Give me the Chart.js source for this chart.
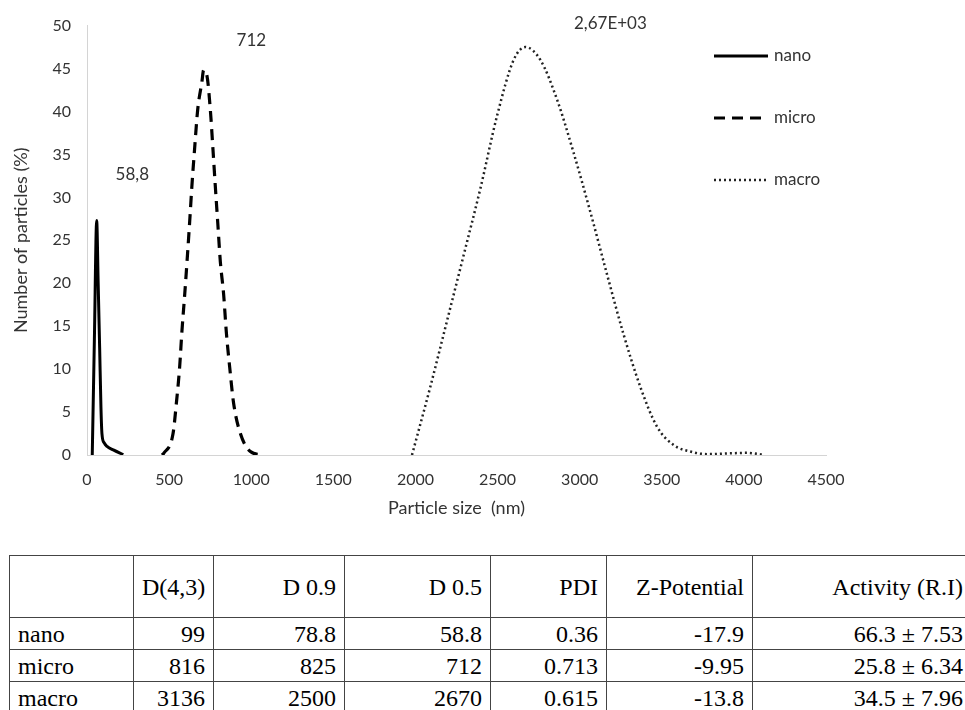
<!DOCTYPE html>
<html>
<head>
<meta charset="utf-8">
<script src="https://cdn.jsdelivr.net/npm/chart.js@4.4.1/dist/chart.umd.min.js"></script>
<style>
html, body { margin: 0; padding: 0; background: #fff; overflow: hidden; width: 965px; height: 710px; }
#chartBox { position: absolute; left: 0; top: 0; width: 965px; height: 530px; }
#tbl { position: absolute; left: 9px; top: 555px; border-collapse: collapse; table-layout: fixed; width: 962px;
       font-family: "Liberation Serif", "Times New Roman", serif; font-size: 24px; color: #000; }
#tbl td { border: 1px solid #444; padding: 0 8px; text-align: right; height: 31px; white-space: nowrap; line-height: 1; }
#tbl tr.head td { height: 61px; }
#tbl td:first-child { text-align: left; }
</style>
</head>
<body>
<div id="chartBox"><canvas id="psd"></canvas></div>
<table id="tbl">
  <colgroup>
    <col style="width:124px"><col style="width:80px"><col style="width:131px"><col style="width:146px">
    <col style="width:116px"><col style="width:146px"><col style="width:219px">
  </colgroup>
  <tbody id="tblBody"></tbody>
</table>
<script>
// size distribution curves (x = particle size in nm, y = % of particles)
const nanoSize = [32, 45, 59, 68, 77, 85, 91, 105, 122, 160, 221];
const nanoPct = [0, 13.5, 27.3, 20, 12.5, 5.5, 2.5, 1.4, 1.0, 0.6, 0.05];

const microSize = [457, 467, 524, 544, 564, 578, 595, 609, 625, 639, 655, 674, 700, 710, 731, 751, 767, 781, 796, 812, 832, 848, 869, 893, 934, 995, 1066];
const microPct = [0, 0.2, 2.5, 6.0, 10.2, 14.4, 18.7, 22.5, 27.1, 31.4, 35.6, 40.2, 43.5, 44.8, 44.1, 40.2, 35.6, 31.4, 27.1, 22.5, 18.7, 14.4, 10.2, 6.0, 2.5, 0.4, 0];

const macroSize = [1979, 2090, 2192, 2294, 2395, 2497, 2598, 2669, 2761, 2862, 2963, 3065, 3167, 3268, 3370, 3471, 3573, 3674, 3775, 3917, 4019, 4110];
const macroPct = [0, 7.9, 15.6, 23.3, 31, 39.5, 46, 47.5, 46, 41.4, 35.2, 28.3, 21, 14, 7.9, 3.3, 1.15, 0.4, 0.1, 0.2, 0.25, 0.05];

const seriesNames = ['nano', 'micro', 'macro'];

// peak labels, placed in data units
const peakText = ['58,8', '712', '2,67E+03'];
const peakTextX = [276, 1001, 3187];
const peakTextY = [32.7, 48.3, 50.2];

// table under the chart
const tableHead = ['', 'D(4,3)', 'D 0.9', 'D 0.5', 'PDI', 'Z-Potential', 'Activity (R.I)'];
const tableRows = [
  ['nano', '99', '78.8', '58.8', '0.36', '-17.9', '66.3 ± 7.53'],
  ['micro', '816', '825', '712', '0.713', '-9.95', '25.8 ± 6.34'],
  ['macro', '3136', '2500', '2670', '0.615', '-13.8', '34.5 ± 7.96']
];

const tbody = document.getElementById('tblBody');
[tableHead, ...tableRows].forEach((row, r) => {
  const tr = document.createElement('tr');
  if (r === 0) tr.className = 'head';
  row.forEach(cell => {
    const td = document.createElement('td');
    td.textContent = cell;
    tr.appendChild(td);
  });
  tbody.appendChild(tr);
});

const textColor = '#333';
const tickFont = { family: 'Lato', size: 16 };
const titleFont = { family: 'Lato', size: 18 };

function pts(xs, ys) {
  return xs.map((v, i) => ({ x: v, y: ys[i] }));
}

const overlay = {
  id: 'overlay',
  afterDatasetsDraw(chart) {
    const { ctx, scales: { x, y } } = chart;
    ctx.save();
    ctx.font = '17px Lato';
    ctx.fillStyle = textColor;
    ctx.textBaseline = 'middle';
    ctx.textAlign = 'center';
    peakText.forEach((t, i) => {
      ctx.fillText(t, x.getPixelForValue(peakTextX[i]), y.getPixelForValue(peakTextY[i]));
    });
    // legend drawn by hand, Excel puts it over the right part of the plot
    chart.data.datasets.forEach((ds, i) => {
      const ly = 56 + i * 62;
      ctx.beginPath();
      ctx.setLineDash(ds.borderDash || []);
      ctx.lineWidth = ds.borderWidth;
      ctx.strokeStyle = ds.borderColor;
      ctx.moveTo(714, ly);
      ctx.lineTo(768, ly);
      ctx.stroke();
      ctx.setLineDash([]);
      ctx.textAlign = 'left';
      ctx.fillText(ds.label, 774, ly);
    });
    ctx.restore();
  }
};

new Chart(document.getElementById('psd'), {
  type: 'line',
  data: {
    datasets: [
      { label: seriesNames[0], data: pts(nanoSize, nanoPct), borderColor: '#000', borderWidth: 3 },
      { label: seriesNames[1], data: pts(microSize, microPct), borderColor: '#000', borderWidth: 3.2, borderDash: [11, 7] },
      { label: seriesNames[2], data: pts(macroSize, macroPct), borderColor: '#222', borderWidth: 2.5, borderDash: [2, 3] }
    ]
  },
  options: {
    responsive: true,
    maintainAspectRatio: false,
    animation: false,
    layout: { padding: { top: 22, right: 139, left: 0, bottom: 0 } },
    elements: {
      point: { radius: 0 },
      line: { cubicInterpolationMode: 'monotone', fill: false }
    },
    plugins: {
      legend: { display: false },
      tooltip: { enabled: false }
    },
    scales: {
      x: {
        type: 'linear',
        min: 0,
        max: 4500,
        ticks: { stepSize: 500, padding: 15, color: textColor, font: tickFont, maxRotation: 0, autoSkip: false, callback: v => String(v) },
        grid: { display: false, drawTicks: false },
        border: { color: '#d4d4d4', width: 1 },
        title: { display: true, text: 'Particle size  (nm)', color: textColor, font: titleFont, padding: { top: 0, bottom: 11 } },
        afterFit: s => { s.height = 75; }
      },
      y: {
        min: 0,
        max: 50,
        ticks: { stepSize: 5, padding: 16, color: textColor, font: tickFont },
        grid: { display: false, drawTicks: false },
        border: { color: '#d4d4d4', width: 1 },
        title: { display: true, text: 'Number of particles (%)', color: textColor, font: titleFont, padding: { top: 10, bottom: 0 } },
        afterFit: s => { s.width = 87; }
      }
    }
  },
  plugins: [overlay]
});
</script>
</body>
</html>
